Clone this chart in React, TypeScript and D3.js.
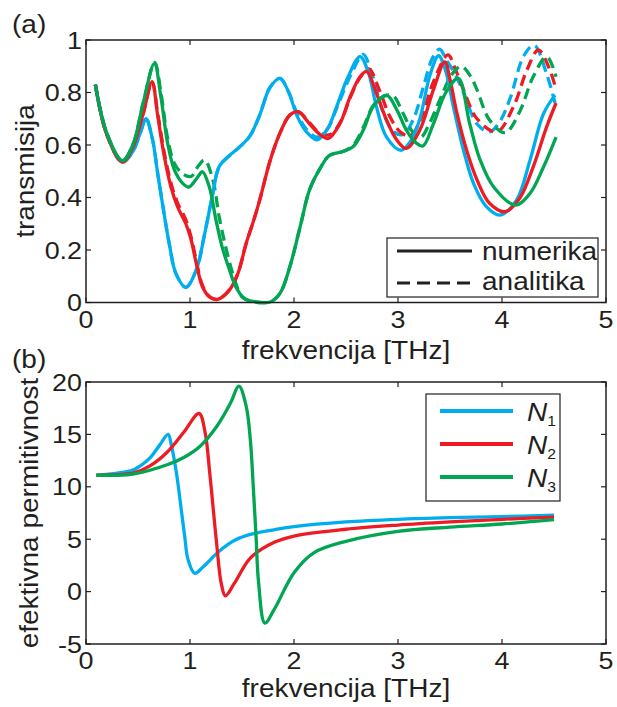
import React from "react";
import * as d3 from "d3";

type P = [number, number];

// ---------- Panel (a): transmission ----------
const xTicks = [0, 1, 2, 3, 4, 5];
const xTickLabels = ["0", "1", "2", "3", "4", "5"];
const tTicks = [0, 0.2, 0.4, 0.6, 0.8, 1];
const tTickLabels = ["0", "0.2", "0.4", "0.6", "0.8", "1"];

const blueNum: P[] = [
  [0.09, 0.83], [0.2, 0.64], [0.35, 0.535], [0.45, 0.575], [0.52, 0.644], [0.577, 0.7],
  [0.64, 0.62], [0.69, 0.49], [0.74, 0.365], [0.8, 0.225], [0.865, 0.11], [0.96, 0.058],
  [1.06, 0.124], [1.14, 0.26], [1.22, 0.416], [1.28, 0.517], [1.38, 0.56], [1.47, 0.59],
  [1.577, 0.635], [1.67, 0.714], [1.77, 0.82], [1.865, 0.854], [1.95, 0.8], [2.03, 0.71],
  [2.12, 0.65], [2.22, 0.62], [2.32, 0.66], [2.41, 0.746], [2.52, 0.86], [2.635, 0.937],
  [2.72, 0.87], [2.79, 0.75], [2.89, 0.63], [3.03, 0.58], [3.13, 0.62], [3.21, 0.7],
  [3.31, 0.87], [3.39, 0.94], [3.46, 0.88], [3.53, 0.75], [3.63, 0.58], [3.73, 0.45],
  [3.85, 0.365], [3.98, 0.333], [4.14, 0.39], [4.27, 0.543], [4.4, 0.72], [4.51, 0.79],
];
const blueAna: P[] = [
  [0.09, 0.83], [0.2, 0.64], [0.35, 0.535], [0.45, 0.575], [0.52, 0.644], [0.577, 0.7],
  [0.64, 0.62], [0.69, 0.49], [0.74, 0.365], [0.8, 0.225], [0.865, 0.11], [0.96, 0.058],
  [1.06, 0.124], [1.14, 0.26], [1.22, 0.416], [1.28, 0.517], [1.38, 0.56], [1.47, 0.59],
  [1.577, 0.635], [1.67, 0.714], [1.77, 0.82], [1.865, 0.854], [1.95, 0.8], [2.03, 0.72],
  [2.12, 0.66], [2.22, 0.63], [2.32, 0.66], [2.41, 0.74], [2.55, 0.87], [2.665, 0.945],
  [2.75, 0.87], [2.86, 0.72], [2.96, 0.65], [3.05, 0.64], [3.15, 0.7], [3.25, 0.83],
  [3.33, 0.93], [3.4, 0.965], [3.47, 0.92], [3.55, 0.87], [3.63, 0.8], [3.76, 0.68],
  [3.88, 0.65], [3.98, 0.69], [4.08, 0.78], [4.21, 0.94], [4.31, 0.98], [4.43, 0.87],
  [4.51, 0.76],
];
const redNum: P[] = [
  [0.09, 0.83], [0.2, 0.64], [0.35, 0.535], [0.45, 0.59], [0.55, 0.72], [0.635, 0.84],
  [0.69, 0.71], [0.753, 0.556], [0.817, 0.44], [0.88, 0.365], [0.96, 0.3], [1.01, 0.24],
  [1.06, 0.15], [1.12, 0.06], [1.19, 0.02], [1.266, 0.012], [1.38, 0.048], [1.46, 0.11],
  [1.54, 0.225], [1.61, 0.31], [1.67, 0.39], [1.77, 0.54], [1.865, 0.645], [1.96, 0.714],
  [2.04, 0.727], [2.15, 0.68], [2.25, 0.64], [2.33, 0.625], [2.44, 0.68], [2.54, 0.784],
  [2.635, 0.86], [2.7, 0.88], [2.79, 0.8], [2.89, 0.695], [2.987, 0.62], [3.08, 0.587],
  [3.21, 0.657], [3.34, 0.81], [3.45, 0.917], [3.5, 0.85], [3.56, 0.733], [3.66, 0.58],
  [3.76, 0.467], [3.88, 0.378], [4.03, 0.346], [4.17, 0.397], [4.3, 0.517], [4.43, 0.67],
  [4.52, 0.76],
];
const redAna: P[] = [
  [0.09, 0.83], [0.2, 0.64], [0.35, 0.535], [0.45, 0.59], [0.55, 0.72], [0.635, 0.84],
  [0.69, 0.72], [0.753, 0.57], [0.817, 0.455], [0.88, 0.38], [0.96, 0.315], [1.01, 0.25],
  [1.06, 0.16], [1.12, 0.065], [1.19, 0.022], [1.266, 0.012], [1.38, 0.048], [1.46, 0.11],
  [1.54, 0.225], [1.61, 0.31], [1.67, 0.39], [1.77, 0.54], [1.865, 0.645], [1.96, 0.714],
  [2.04, 0.727], [2.15, 0.685], [2.25, 0.645], [2.35, 0.64], [2.45, 0.69], [2.54, 0.78],
  [2.64, 0.86], [2.72, 0.89], [2.82, 0.81], [2.92, 0.71], [3.02, 0.65], [3.12, 0.635],
  [3.22, 0.7], [3.34, 0.84], [3.48, 0.943], [3.55, 0.89], [3.63, 0.81], [3.76, 0.7],
  [3.95, 0.65], [4.11, 0.746], [4.24, 0.886], [4.35, 0.962], [4.46, 0.886], [4.52, 0.81],
];
const greenNum: P[] = [
  [0.09, 0.83], [0.2, 0.645], [0.35, 0.54], [0.45, 0.6], [0.55, 0.76], [0.657, 0.91],
  [0.72, 0.784], [0.785, 0.606], [0.85, 0.505], [0.93, 0.454], [0.99, 0.44], [1.06, 0.47],
  [1.12, 0.498], [1.186, 0.44], [1.25, 0.314], [1.31, 0.21], [1.38, 0.124], [1.44, 0.06],
  [1.52, 0.016], [1.63, 0.003], [1.77, 0.002], [1.865, 0.035], [1.96, 0.136], [2.06, 0.29],
  [2.15, 0.43], [2.25, 0.51], [2.34, 0.56], [2.47, 0.575], [2.57, 0.594], [2.67, 0.66],
  [2.76, 0.746], [2.89, 0.79], [2.99, 0.733], [3.08, 0.657], [3.18, 0.606], [3.24, 0.596],
  [3.34, 0.68], [3.46, 0.8], [3.58, 0.854], [3.69, 0.68], [3.79, 0.543], [3.92, 0.44],
  [4.13, 0.371], [4.27, 0.416], [4.4, 0.517], [4.52, 0.63],
];
const greenAna: P[] = [
  [0.09, 0.83], [0.2, 0.645], [0.35, 0.54], [0.45, 0.6], [0.55, 0.76], [0.66, 0.915],
  [0.72, 0.8], [0.785, 0.625], [0.85, 0.53], [0.93, 0.49], [1.01, 0.48], [1.08, 0.52],
  [1.14, 0.543], [1.22, 0.467], [1.28, 0.327], [1.35, 0.2], [1.43, 0.086], [1.5, 0.022],
  [1.6, 0.004], [1.77, 0.002], [1.865, 0.035], [1.96, 0.136], [2.06, 0.29], [2.15, 0.43],
  [2.25, 0.51], [2.34, 0.56], [2.47, 0.575], [2.57, 0.6], [2.67, 0.67], [2.78, 0.76],
  [2.94, 0.79], [3.05, 0.72], [3.14, 0.65], [3.22, 0.63], [3.3, 0.68], [3.4, 0.77],
  [3.52, 0.87], [3.61, 0.9], [3.7, 0.86], [3.76, 0.81], [3.88, 0.695], [4.03, 0.647],
  [4.17, 0.727], [4.3, 0.86], [4.43, 0.937], [4.52, 0.86],
];

// ---------- Panel (b): effective permittivity ----------
const eTicks = [-5, 0, 5, 10, 15, 20];
const eTickLabels = ["-5", "0", "5", "10", "15", "20"];

const epsN1: P[] = [
  [0.1, 11.1], [0.3, 11.3], [0.45, 11.6], [0.55, 12.2], [0.62, 12.8], [0.71, 14.0],
  [0.79, 15.0], [0.82, 14.0], [0.87, 11.3], [0.92, 7.5], [0.95, 5.2], [0.98, 3.1],
  [1.045, 1.75], [1.13, 2.4], [1.28, 3.85], [1.43, 4.9], [1.6, 5.5], [1.81, 5.9],
  [2.0, 6.2], [2.5, 6.65], [3.0, 6.9], [3.5, 7.05], [4.0, 7.15], [4.5, 7.3],
];
const epsN2: P[] = [
  [0.1, 11.1], [0.3, 11.15], [0.45, 11.3], [0.615, 12.0], [0.78, 13.3], [0.94, 15.2],
  [1.087, 17.0], [1.145, 15.2], [1.19, 11.3], [1.23, 7.2], [1.26, 4.2], [1.3, 0.8],
  [1.34, -0.4], [1.43, 0.85], [1.58, 3.2], [1.81, 4.7], [2.0, 5.3], [2.5, 5.95],
  [3.0, 6.35], [3.5, 6.65], [4.0, 6.9], [4.5, 7.1],
];
const epsN3: P[] = [
  [0.1, 11.1], [0.3, 11.1], [0.45, 11.2], [0.78, 12.1], [0.94, 12.8], [1.1, 13.9],
  [1.26, 15.8], [1.39, 18.0], [1.47, 19.6], [1.54, 17.7], [1.58, 14.5], [1.61, 9.7],
  [1.635, 5.3], [1.66, 0.8], [1.72, -3.0], [1.81, -1.7], [2.0, 1.8], [2.19, 3.7],
  [2.5, 4.8], [3.0, 5.75], [3.5, 6.15], [4.0, 6.45], [4.5, 6.87],
];

const BLUE = "#00AEEF";
const RED = "#ED1C24";
const GREEN = "#00A651";
const INK = "#231F20";
const FONT = "'Liberation Sans', Arial, Helvetica, sans-serif";
const SX = 1.12; // horizontal stretch of glyphs as in the reference

const X0 = 86;
const X1 = 606;
const xScale = d3.scaleLinear().domain([0, 5]).range([X0, X1]);
const yA = d3.scaleLinear().domain([0, 1]).range([302.5, 40]);
const yB = d3.scaleLinear().domain([-5, 20]).range([644, 382]);

function T({ x, y, size, anchor, rotate, italic, children }: {
  x: number; y: number; size: number; anchor?: string; rotate?: boolean; italic?: boolean; children: React.ReactNode;
}) {
  const tf = rotate
    ? `translate(${x},${y}) rotate(-90) scale(${SX},1)`
    : `translate(${x},${y}) scale(${SX},1)`;
  return (
    <text transform={tf} textAnchor={anchor || "start"} fontSize={size} fontFamily={FONT}
      fontStyle={italic ? "italic" : "normal"} fill={INK}>
      {children}
    </text>
  );
}

function Frame({ y, ticks, labels }: { y: d3.ScaleLinear<number, number>; ticks: number[]; labels: string[] }) {
  const [yb, yt] = y.range();
  const tl = 5;
  return (
    <g>
      <rect x={X0} y={yt} width={X1 - X0} height={yb - yt} fill="none" stroke={INK} strokeWidth={1.5} />
      {xTicks.map((t, i) => (
        <g key={"x" + i}>
          <line x1={xScale(t)} x2={xScale(t)} y1={yb} y2={yb - tl} stroke={INK} strokeWidth={1.2} />
          <line x1={xScale(t)} x2={xScale(t)} y1={yt} y2={yt + tl} stroke={INK} strokeWidth={1.2} />
          <T x={xScale(t)} y={yb + 25} size={24} anchor="middle">{xTickLabels[i]}</T>
        </g>
      ))}
      {ticks.map((t, i) => (
        <g key={"y" + i}>
          <line x1={X0} x2={X0 + tl} y1={y(t)} y2={y(t)} stroke={INK} strokeWidth={1.2} />
          <line x1={X1} x2={X1 - tl} y1={y(t)} y2={y(t)} stroke={INK} strokeWidth={1.2} />
          <T x={X0 - 4} y={y(t) + 8.5} size={24} anchor="end">{labels[i]}</T>
        </g>
      ))}
    </g>
  );
}

export default function App() {
  const lineA = d3
    .line<P>()
    .x((d) => xScale(d[0]))
    .y((d) => yA(d[1]))
    .curve(d3.curveCatmullRom.alpha(0.5));
  const lineB = d3
    .line<P>()
    .x((d) => xScale(d[0]))
    .y((d) => yB(d[1]))
    .curve(d3.curveCatmullRom.alpha(0.5));

  const sw = 3.3;
  const dash = "11 6";
  const topSeries: { d: P[]; c: string; dashed: boolean }[] = [
    { d: blueAna, c: BLUE, dashed: true },
    { d: redAna, c: RED, dashed: true },
    { d: greenAna, c: GREEN, dashed: true },
    { d: blueNum, c: BLUE, dashed: false },
    { d: redNum, c: RED, dashed: false },
    { d: greenNum, c: GREEN, dashed: false },
  ];
  const botSeries: { d: P[]; c: string; n: string }[] = [
    { d: epsN1, c: BLUE, n: "1" },
    { d: epsN2, c: RED, n: "2" },
    { d: epsN3, c: GREEN, n: "3" },
  ];

  return (
    <svg width={617} height={707} style={{ position: "absolute", left: 0, top: 0, background: "#fff" }}>
      <rect x={0} y={0} width={617} height={707} fill="#fff" />
      {/* Panel (a) */}
      <T x={12} y={33} size={25}>(a)</T>
      {topSeries.map((s, i) => (
        <path key={i} d={lineA(s.d) || ""} fill="none" stroke={s.c} strokeWidth={sw}
          strokeDasharray={s.dashed ? dash : undefined} strokeLinecap="butt" strokeLinejoin="round" />
      ))}
      <Frame y={yA} ticks={tTicks} labels={tTickLabels} />
      <T x={34} y={171} size={25} anchor="middle" rotate>transmisija</T>
      <T x={346} y={359} size={25} anchor="middle">frekvencija [THz]</T>
      {/* legend (a) */}
      <rect x={387} y={238} width={211} height={59} fill="#fff" stroke={INK} strokeWidth={1.2} />
      <line x1={397} x2={472} y1={251} y2={251} stroke={INK} strokeWidth={3} />
      <line x1={397} x2={472} y1={283} y2={283} stroke={INK} strokeWidth={3} strokeDasharray="13 7" />
      <T x={482} y={260} size={25}>numerika</T>
      <T x={482} y={290} size={25}>analitika</T>

      {/* Panel (b) */}
      <T x={12} y={368} size={25}>(b)</T>
      {botSeries.map((s, i) => (
        <path key={i} d={lineB(s.d) || ""} fill="none" stroke={s.c} strokeWidth={sw} strokeLinejoin="round" />
      ))}
      <Frame y={yB} ticks={eTicks} labels={eTickLabels} />
      <T x={38} y={513} size={25} anchor="middle" rotate>efektivna permitivnost</T>
      <T x={346} y={697} size={25} anchor="middle">frekvencija [THz]</T>
      {/* legend (b) */}
      <rect x={426} y={394} width={134} height={107} fill="#fff" stroke={INK} strokeWidth={1.2} />
      {botSeries.map((s, i) => (
        <g key={i}>
          <line x1={440} x2={513} y1={411 + i * 33} y2={411 + i * 33} stroke={s.c} strokeWidth={3.8} />
          <T x={527} y={421 + i * 33} size={25} italic>
            N
            <tspan fontSize={14} fontStyle="normal" dy={5}>{s.n}</tspan>
          </T>
        </g>
      ))}
    </svg>
  );
}
